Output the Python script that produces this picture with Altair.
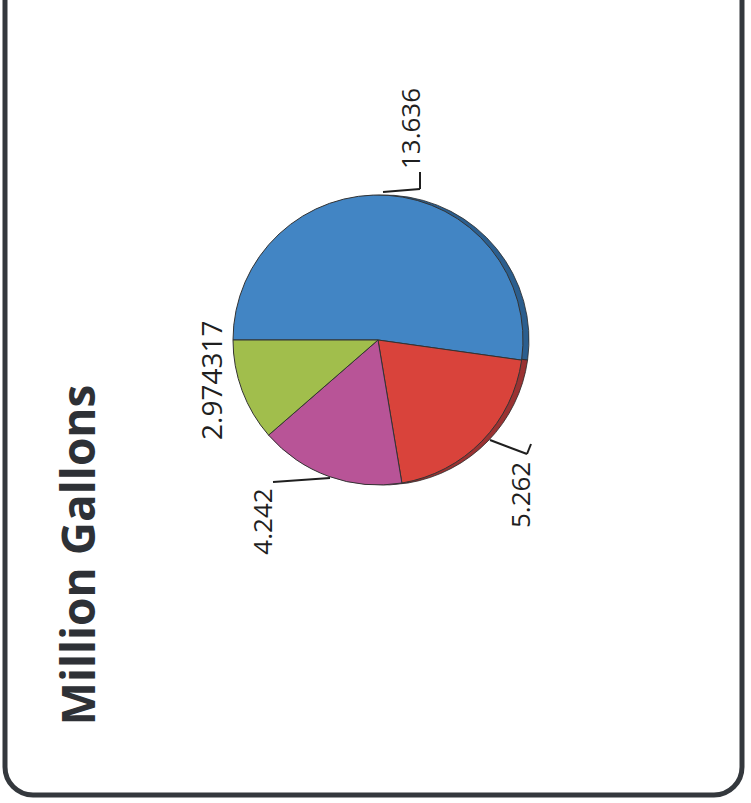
import math
import altair as alt
import pandas as pd

# ---- data ----
categories = ["Segment 1", "Segment 2", "Segment 3", "Segment 4"]
values = [13.636, 5.262, 4.242, 2.974317]
labels = ["13.636", "5.262", "4.242", "2.974317"]
title_text = "Million Gallons"

colors = ["#4285C4", "#D9433B", "#B85497", "#A1BE4C"]
rim_colors = ["#2B5E8E", "#9A3232", "#7E3A68", "#6F8634"]

df = pd.DataFrame({
    "category": categories,
    "value": values,
    "label": labels,
    "order": list(range(len(values))),
})
one = pd.DataFrame({"t": [title_text]})

W, H = 751, 803
CX, CY, R = 378, 340, 145
total = float(sum(values))

theta_scale = alt.Scale(domain=[0, total], range=[-math.pi / 2, 3 * math.pi / 2])
order = alt.Order("order:Q")

base = alt.Chart(df)

# 3D rim (darker copy slightly offset to the right)
rim = base.mark_arc(radius=R, stroke="#2a2a2a", strokeWidth=0.8).encode(
    theta=alt.Theta("value:Q", stack=True, scale=theta_scale),
    fill=alt.Fill("category:N", scale=alt.Scale(domain=categories, range=rim_colors), legend=None),
    order=order,
    x=alt.value(CX + 6),
    y=alt.value(CY),
)

pie = base.mark_arc(radius=R, stroke="#333333", strokeWidth=1).encode(
    theta=alt.Theta("value:Q", stack=True, scale=theta_scale),
    color=alt.Color("category:N", scale=alt.Scale(domain=categories, range=colors), legend=None),
    order=order,
    x=alt.value(CX),
    y=alt.value(CY),
)

# labels placed at slice mid-angles, with small nudges (screen px: sx, sy)
nudges = {
    "13.636": (19, 0, 26),
    "5.262": (-8, 7, 26),
    "4.242": (-42, -18, 26),
    "2.974317": (35, -34, 28),
}
LABEL_R = 212
text_layers = []
for lab, (sx, sy, fs) in nudges.items():
    t = (
        base.transform_window(cum="sum(value)", frame=[None, 0], sort=[alt.SortField("order")])
        .transform_calculate(mid="datum.cum - datum.value / 2")
        .transform_filter(alt.datum.label == lab)
        .mark_text(
            radius=LABEL_R, angle=270, align="center", baseline="middle",
            font="Open Sans", fontSize=fs, color="#1f1f1f",
            dx=-sy, dy=sx,
        )
        .encode(
            theta=alt.Theta("mid:Q", scale=theta_scale),
            text="label:N",
            x=alt.value(CX),
            y=alt.value(CY),
        )
    )
    text_layers.append(t)

# leader lines
def seg(x1, y1, x2, y2):
    return alt.Chart(one).mark_rule(color="#1f1f1f", strokeWidth=2).encode(
        x=alt.value(x1), y=alt.value(y1), x2=alt.value(x2), y2=alt.value(y2)
    )

leaders = [
    seg(383, 192, 420, 189), seg(420, 189, 420, 172),
    seg(490, 440, 527, 454), seg(527, 454, 531, 444),
    seg(330, 478, 273, 482),
]

title = alt.Chart(one).mark_text(
    angle=270, align="center", baseline="alphabetic",
    font="Open Sans", fontSize=46, fontWeight="bold", color="#2e3136",
).encode(x=alt.value(95), y=alt.value(555), text="t:N")

border = alt.Chart(one).mark_rect(
    filled=False, stroke="#34383d", strokeWidth=5, cornerRadius=28
).encode(x=alt.value(5), x2=alt.value(742), y=alt.value(-60), y2=alt.value(795))

chart = alt.layer(border, rim, pie, *leaders, *text_layers, title).properties(
    width=W, height=H, autosize=alt.AutoSizeParams(type="none"), padding=0,
    background="white",
).configure_view(stroke=None)

chart.save("out.html", embed_options={"renderer": "svg", "actions": False})
